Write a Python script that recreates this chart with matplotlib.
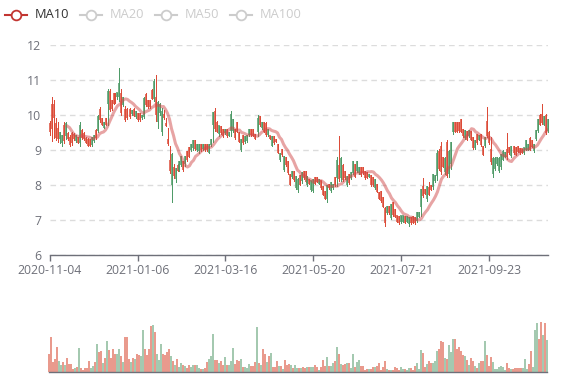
import matplotlib
matplotlib.use("Agg")
import matplotlib.pyplot as plt
from matplotlib.lines import Line2D
import numpy as np
import pandas as pd

plt.rcParams['font.family'] = ['Open Sans', 'DejaVu Sans']

# x axis: one label every 44 trading days
tick_labels = ['2020-11-04', '2021-01-06', '2021-03-16', '2021-05-20', '2021-07-21', '2021-09-23']
label_step = 44
legend_names = ['MA10', 'MA20', 'MA50', 'MA100']

# daily OHLC
open_ = [9.5, 9.6, 9.9, 9.35, 9.3, 9.5, 9.4, 9.25, 9.75, 9.3,
         9.15, 9.2, 9.3, 9.4, 9.2, 9.7, 9.35, 9.3, 9.2, 9.12,
         9.12, 9.35, 9.4, 9.35, 9.95, 9.85, 9.72, 9.78, 9.72, 10.65,
         10.15, 10.18, 10.32, 10.37, 10.62, 10.9, 10.05, 10.5, 9.85, 9.9,
         9.95, 10.13, 9.98, 10.08, 9.85, 9.85, 9.98, 10.45, 10.28, 10.22,
         10.22, 10.46, 10.95, 10.0, 10.35, 10.3, 10.1, 9.9, 9.68, 9.17,
         8.4, 8.85, 8.25, 8.45, 8.4, 8.65, 8.8, 8.42, 8.8, 8.7,
         8.8, 9.15, 9.27, 9.02, 9.15, 9.14, 8.98, 9.15, 8.98, 8.99,
         9.14, 9.3, 10.05, 9.6, 9.52, 9.68, 9.47, 9.38, 9.58, 9.38,
         9.5, 10.0, 9.85, 9.33, 9.52, 9.23, 9.3, 9.18, 9.36, 9.4,
         9.58, 9.42, 9.4, 9.32, 9.9, 9.7, 9.77, 9.52, 9.42, 9.58,
         9.32, 9.36, 9.18, 9.22, 8.92, 8.88, 8.85, 8.8, 8.56, 8.32,
         8.0, 8.37, 8.12, 8.23, 8.15, 8.0, 8.35, 8.18, 8.09, 8.24,
         8.03, 8.1, 8.14, 8.03, 8.08, 8.15, 7.9, 7.7, 7.6, 7.97,
         7.9, 8.05, 8.0, 7.98, 8.7, 8.15, 8.75, 8.13, 8.18, 8.24,
         8.04, 8.33, 8.66, 8.23, 8.67, 8.48, 8.28, 8.32, 8.2, 8.2,
         8.29, 7.98, 7.98, 8.14, 7.8, 7.6, 7.52, 7.37, 6.9, 7.38,
         7.18, 7.43, 7.13, 7.08, 6.93, 6.9, 7.1, 7.1, 6.91, 7.08,
         7.05, 6.9, 6.91, 6.9, 7.19, 7.2, 7.87, 7.67, 7.74, 7.95,
         7.7, 7.85, 8.28, 8.25, 8.9, 8.45, 8.35, 8.52, 8.75, 8.25,
         8.95, 9.2, 9.77, 9.52, 9.52, 9.55, 9.52, 9.38, 9.55, 9.29,
         9.55, 9.29, 9.05, 9.25, 9.19, 9.4, 9.14, 8.86, 9.34, 9.4,
         9.19, 8.65, 8.75, 8.75, 8.77, 8.75, 8.85, 8.95, 8.92, 8.78,
         8.9, 9.08, 8.9, 8.86, 8.94, 8.9, 8.91, 9.05, 9.27, 9.15,
         9.0, 9.09, 9.15, 9.55, 9.87, 9.72, 9.76, 9.96, 9.48, 9.87]
close = [9.75, 10.3, 10.3, 9.75, 9.6, 9.3, 9.2, 9.7, 9.4, 9.45,
         9.35, 9.45, 9.42, 9.25, 9.35, 9.2, 9.55, 9.45, 9.33, 9.3,
         9.3, 9.15, 9.25, 9.55, 9.55, 10.15, 9.88, 9.63, 9.88, 10.3,
         10.65, 10.4, 10.6, 10.6, 10.5, 10.5, 10.6, 10.27, 10.15, 10.15,
         10.15, 10.02, 10.15, 9.93, 10.02, 10.02, 9.9, 9.95, 10.58, 10.4,
         10.4, 10.7, 10.45, 10.5, 9.8, 10.05, 9.5, 10.0, 9.75, 9.3,
         8.7, 8.0, 8.5, 8.15, 8.55, 8.42, 8.56, 8.65, 8.58, 8.95,
         9.05, 9.0, 9.05, 9.27, 9.0, 8.95, 9.14, 9.02, 9.14, 9.15,
         8.92, 9.15, 9.7, 10.1, 9.78, 9.45, 9.67, 9.58, 9.47, 9.58,
         9.4, 9.55, 9.55, 9.58, 9.77, 9.48, 9.0, 9.4, 9.22, 9.24,
         9.42, 9.58, 9.58, 9.44, 9.5, 9.95, 9.62, 9.77, 9.75, 9.42,
         9.39, 9.12, 9.38, 9.3, 9.14, 8.7, 9.0, 8.42, 8.76, 8.65,
         8.28, 8.22, 8.37, 7.9, 7.85, 8.25, 8.1, 8.38, 8.37, 8.0,
         8.15, 7.86, 7.82, 8.2, 8.2, 8.03, 8.1, 7.95, 7.8, 7.58,
         8.0, 7.82, 7.9, 8.2, 8.2, 8.55, 8.2, 8.55, 8.38, 8.0,
         8.28, 8.18, 8.33, 8.57, 8.38, 8.33, 8.48, 8.48, 8.37, 8.33,
         8.22, 8.27, 8.19, 7.9, 8.0, 7.76, 7.8, 7.62, 7.3, 7.18,
         7.38, 7.05, 7.48, 7.28, 7.1, 7.07, 6.92, 6.93, 7.08, 6.93,
         6.86, 7.05, 7.07, 7.05, 6.95, 7.08, 7.35, 7.95, 7.86, 7.6,
         7.9, 7.97, 7.92, 8.1, 8.25, 8.95, 9.1, 8.77, 8.35, 9.2,
         8.3, 8.6, 9.5, 9.77, 9.77, 9.78, 9.85, 9.58, 9.34, 9.53,
         9.38, 9.53, 9.34, 9.05, 9.44, 9.29, 9.44, 9.1, 9.1, 9.8,
         9.5, 9.0, 8.3, 8.45, 8.58, 8.4, 8.5, 8.72, 8.8, 9.0,
         9.06, 8.82, 9.08, 9.05, 9.08, 9.04, 9.02, 8.9, 9.0, 9.0,
         9.33, 9.25, 8.95, 9.3, 9.55, 9.98, 10.0, 9.72, 9.98, 9.55]
low = [9.42, 9.25, 9.35, 9.27, 9.22, 9.19, 9.1, 9.2, 9.32, 9.27,
       9.1, 9.13, 9.27, 9.22, 9.19, 9.1, 9.32, 9.27, 9.19, 9.1,
       9.1, 9.1, 9.22, 9.32, 9.51, 9.8, 9.71, 9.61, 9.71, 9.71,
       10.1, 10.15, 10.3, 10.35, 10.44, 10.39, 10.0, 10.25, 9.82, 9.87,
       9.91, 10.0, 9.96, 9.91, 9.82, 9.82, 9.87, 9.91, 10.25, 10.2,
       10.2, 10.44, 10.39, 9.82, 9.63, 10.0, 9.43, 9.87, 9.67, 9.14,
       8.33, 7.51, 8.2, 8.08, 8.39, 8.39, 8.54, 8.39, 8.54, 8.68,
       8.78, 8.97, 9.0, 9.0, 8.97, 8.92, 8.97, 9.0, 8.97, 8.97,
       8.9, 9.12, 9.21, 9.55, 9.5, 9.4, 9.45, 9.36, 9.45, 9.36,
       9.38, 9.4, 9.5, 9.31, 9.5, 9.21, 8.97, 9.16, 9.19, 9.21,
       9.4, 9.4, 9.38, 9.31, 9.4, 9.69, 9.6, 9.5, 9.4, 9.4,
       9.31, 9.1, 9.16, 9.21, 8.9, 8.68, 8.83, 8.39, 8.54, 8.3,
       7.98, 8.2, 8.1, 7.87, 7.79, 7.98, 8.06, 8.16, 8.07, 7.97,
       8.02, 7.83, 7.78, 8.02, 8.07, 8.02, 7.88, 7.69, 7.59, 7.5,
       7.88, 7.78, 7.88, 7.97, 7.97, 8.11, 8.11, 8.11, 8.16, 7.97,
       8.02, 8.16, 8.3, 8.21, 8.35, 8.3, 8.26, 8.3, 8.16, 8.19,
       8.21, 7.97, 7.97, 7.88, 7.78, 7.59, 7.5, 7.35, 6.83, 7.16,
       7.16, 7.02, 7.11, 7.07, 6.92, 6.88, 6.9, 6.92, 6.9, 6.92,
       6.83, 6.88, 6.9, 6.88, 6.92, 7.07, 7.11, 7.64, 7.73, 7.54,
       7.69, 7.84, 7.89, 8.08, 8.12, 8.41, 8.31, 8.5, 8.31, 8.22,
       8.22, 8.46, 9.46, 9.5, 9.5, 9.5, 9.5, 9.36, 9.31, 9.27,
       9.36, 9.27, 9.03, 9.03, 9.17, 9.27, 9.12, 8.84, 9.08, 9.36,
       9.17, 8.6, 8.22, 8.41, 8.55, 8.36, 8.46, 8.7, 8.79, 8.74,
       8.89, 8.79, 8.89, 8.84, 8.93, 8.89, 8.9, 8.89, 8.98, 8.98,
       8.98, 9.08, 8.93, 9.27, 9.5, 9.7, 9.74, 9.7, 9.46, 9.5]
high = [9.81, 10.5, 10.42, 9.9, 9.8, 9.51, 9.42, 9.8, 9.8, 9.5,
        9.42, 9.51, 9.47, 9.42, 9.37, 9.8, 9.6, 9.51, 9.37, 9.35,
        9.32, 9.37, 9.42, 9.6, 10.0, 10.22, 9.9, 9.8, 9.9, 10.73,
        10.73, 10.42, 10.63, 10.63, 10.63, 11.33, 10.73, 10.52, 10.25, 10.2,
        10.2, 10.15, 10.2, 10.1, 10.06, 10.06, 10.0, 10.52, 10.63, 10.42,
        10.42, 10.73, 11.02, 11.13, 10.39, 10.35, 10.2, 10.15, 9.91, 9.62,
        9.12, 8.9, 8.59, 8.49, 8.59, 8.68, 8.83, 8.68, 8.83, 8.97,
        9.07, 9.16, 9.29, 9.29, 9.16, 9.16, 9.16, 9.16, 9.16, 9.16,
        9.16, 9.31, 10.08, 10.19, 9.81, 9.69, 9.69, 9.6, 9.6, 9.6,
        9.52, 10.1, 9.88, 9.6, 9.79, 9.5, 9.31, 9.42, 9.38, 9.42,
        9.6, 9.6, 9.6, 9.45, 10.0, 9.98, 9.79, 9.79, 9.79, 9.6,
        9.4, 9.38, 9.4, 9.31, 9.16, 8.9, 9.02, 8.83, 8.78, 8.68,
        8.3, 8.39, 8.39, 8.25, 8.2, 8.27, 8.37, 8.4, 8.4, 8.26,
        8.16, 8.11, 8.16, 8.21, 8.21, 8.16, 8.11, 7.97, 7.83, 7.99,
        8.02, 8.07, 8.02, 8.21, 8.78, 9.38, 8.78, 8.59, 8.4, 8.26,
        8.3, 8.35, 8.69, 8.59, 8.69, 8.5, 8.5, 8.5, 8.4, 8.35,
        8.3, 8.29, 8.21, 8.16, 8.02, 7.78, 7.83, 7.64, 7.35, 7.4,
        7.4, 7.45, 7.5, 7.3, 7.11, 7.09, 7.11, 7.11, 7.09, 7.09,
        7.07, 7.07, 7.09, 7.07, 7.21, 7.21, 7.88, 8.19, 7.88, 7.97,
        8.07, 7.98, 8.31, 8.27, 8.98, 9.03, 9.22, 8.79, 8.79, 9.27,
        8.98, 9.22, 9.79, 9.79, 9.79, 9.79, 9.89, 9.6, 9.57, 9.55,
        9.57, 9.55, 9.36, 9.27, 9.46, 9.41, 9.46, 9.12, 9.36, 10.22,
        9.55, 9.36, 8.79, 8.79, 8.79, 8.79, 8.89, 8.98, 8.93, 9.48,
        9.08, 9.1, 9.1, 9.08, 9.1, 9.06, 9.03, 9.06, 9.29, 9.17,
        9.36, 9.27, 9.17, 9.57, 9.89, 10.01, 10.3, 9.98, 10.01, 9.89]
volume = [18, 34.7, 9.7, 13.3, 25.3, 11.3, 7.3, 10.3, 6.7, 13.7,
          8.3, 8.3, 3.3, 4.3, 5.3, 24, 3.7, 2.3, 4.3, 4.3,
          11.3, 3.7, 5.7, 9.7, 28.3, 20.3, 20.7, 9.3, 13.7, 31,
          22.3, 14.3, 23, 18.3, 17.7, 23.3, 15.7, 10.3, 35.3, 35.3,
          13.3, 10.3, 14, 13.3, 17.7, 16.7, 16.3, 41.7, 23.3, 17,
          23, 46.3, 47.3, 40, 18.3, 11.7, 28, 18.3, 16.7, 20.3,
          23, 15.7, 11.3, 7.3, 13, 5.3, 9, 7, 5.7, 3.7,
          7, 5.3, 7, 7, 7, 4.3, 3.3, 3.3, 4.3, 10.3,
          13, 16.3, 38.3, 12.3, 12.3, 9, 11, 6.7, 14.7, 7.3,
          7.3, 11.3, 24, 8, 12.3, 10.7, 13, 5, 4.7, 4,
          8, 6.3, 5.7, 10.3, 45.3, 9, 7.3, 23.3, 18.3, 10,
          15.7, 19.3, 5, 5, 10.7, 5.7, 6, 3, 11.7, 6.7,
          7.7, 7.3, 4, 6.7, 3.7, 4.3, 4.3, 5, 3.7, 4.7,
          4.7, 5, 5, 7.3, 5.3, 2.3, 4.7, 12.3, 6, 15,
          6.3, 5.7, 9, 11.3, 25, 18.3, 8, 7.3, 8, 9.3,
          9, 4, 18, 5.3, 10, 12, 6.3, 5.7, 2.3, 3.3,
          2.7, 2.7, 5.3, 5.3, 6, 9.3, 2.3, 5, 10.7, 3,
          1.7, 2.3, 2.3, 5, 4.3, 2.3, 4.7, 3, 3, 2.3,
          4, 4, 2.3, 5.7, 8.7, 3, 22.3, 19, 5, 8.3,
          11.3, 9, 9, 11.3, 20.7, 23.3, 31, 30.3, 14, 13.3,
          26.7, 19.7, 33.3, 33, 23, 25.3, 20.7, 16.7, 16.3, 11.7,
          7.3, 14, 11, 6.3, 4.3, 9, 10.7, 10.7, 31.3, 17.3,
          5.7, 15, 9.7, 3.3, 3.3, 4.7, 6.3, 5, 1.7, 9,
          4.3, 3, 3, 4.3, 3.7, 4, 3.7, 4, 13, 3.3,
          8.3, 21.3, 5, 42.3, 49, 33.3, 50.3, 36.7, 49, 32.3]

UP = '#dc4b38'
DOWN = '#4f9b68'
VOL_UP = '#e99a8d'
VOL_DOWN = '#a4c9b0'
AXIS = '#6E7079'
W, H = 577, 380

o = np.array(open_)
c = np.array(close)
lo = np.array(low)
hi = np.array(high)
n = len(c)
x = np.arange(n)
up = c >= o
ma10 = pd.Series(c).rolling(10).mean()


def box(l, t, r, b):
    return [l / W, 1 - b / H, (r - l) / W, (b - t) / H]


fig = plt.figure(figsize=(W / 100, H / 100), dpi=100)
# half-pixel offset puts the 2px-spaced candles on pixel centres
ax = fig.add_axes(box(49.5, 45, 547.5, 254.5))
axv = fig.add_axes(box(49, 320, 547, 372))

# candles: 1px wick, slightly heavier body
cols = np.where(up, UP, DOWN)
ax.vlines(x, lo, hi, colors=cols, lw=0.72, antialiased=False, clip_on=False,
          zorder=3)
ax.vlines(x, np.minimum(o, c), np.maximum(o, c) + 0.02, colors=cols, lw=1.1,
          clip_on=False, zorder=3)
ax.plot(x, ma10, color='#d14a4a', alpha=0.5, lw=2.2, zorder=4)

ax.set_xlim(0, n - 1)
ax.set_ylim(6, 12)
ax.set_yticks(range(6, 13))
ax.yaxis.grid(True, color='#dcdcdc', linestyle=(0, (4, 3)), lw=1)
ax.set_axisbelow(True)
for s in ['top', 'right', 'left']:
    ax.spines[s].set_visible(False)
ax.spines['bottom'].set_color(AXIS)
ax.spines['bottom'].set_linewidth(1)
ax.set_xticks(range(0, n, label_step)[:len(tick_labels)])
ax.set_xticklabels(tick_labels)
ax.tick_params(axis='y', length=0, pad=6, labelsize=8.8, labelcolor=AXIS)
ax.tick_params(axis='x', length=4, width=1, color=AXIS, pad=2.5, labelsize=8.8,
               labelcolor=AXIS)

# volume
axv.bar(x, volume, width=0.75, color=np.where(up, VOL_UP, VOL_DOWN), lw=0,
        clip_on=False)
axv.set_xlim(0, n - 1)
axv.set_ylim(0, 52)
axv.set_xticks([])
axv.set_yticks([])
for s in ['top', 'right', 'left']:
    axv.spines[s].set_visible(False)
axv.spines['bottom'].set_color(AXIS)
axv.spines['bottom'].set_linewidth(1)

# legend (only MA10 switched on)
lx = [5, 80, 155, 230]
ly = 1 - 15 / H
for i, name in enumerate(legend_names):
    col = '#c23531' if i == 0 else '#cccccc'
    tcol = '#333333' if i == 0 else '#cccccc'
    x0 = lx[i]
    fig.add_artist(Line2D([x0 / W, (x0 + 22) / W], [ly, ly], color=col, lw=1.5,
                          transform=fig.transFigure))
    fig.add_artist(Line2D([(x0 + 11) / W], [ly], marker='o', markersize=7,
                          mfc='white', mec=col, mew=1.3, transform=fig.transFigure))
    fig.text((x0 + 30) / W, ly, name, color=tcol, fontsize=9.3, va='center',
             ha='left')

fig.savefig('out.png', dpi=100)
